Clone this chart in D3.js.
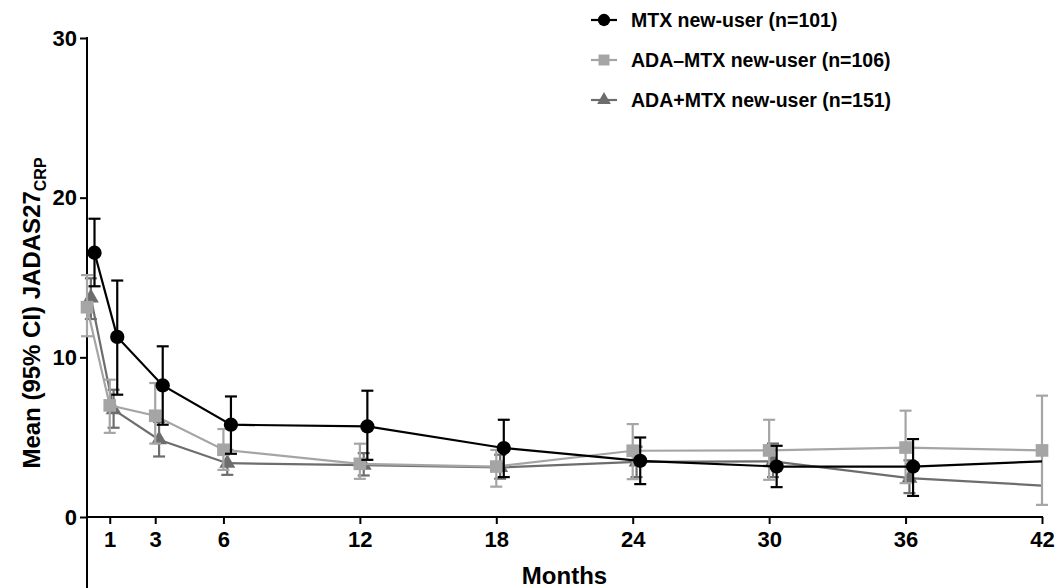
<!DOCTYPE html>
<html>
<head>
<meta charset="utf-8">
<script src="https://cdn.jsdelivr.net/npm/d3@7"></script>
<style>
  body { margin: 0; background: #fff; }
  svg text { font-family: "Liberation Sans", Arial, sans-serif; font-weight: bold; }
</style>
</head>
<body>
<div id="chart"></div>
<script>
// months at which the visits happen
const months = [0, 1, 3, 6, 12, 18, 24, 30, 36, 42];
const xTicks = [1, 3, 6, 12, 18, 24, 30, 36, 42];
const yTicks = [0, 10, 20, 30];

// MTX new-user
const mtxMean = [16.55, 11.28, 8.24, 5.78, 5.67, 4.32, 3.52, 3.16, 3.16, 3.48];
const mtxLow  = [14.45, 7.66, 5.78, 3.96, 3.58, 2.50, 2.06, 1.87, 1.32, null];
const mtxHigh = [18.68, 14.81, 10.69, 7.55, 7.91, 6.09, 4.98, 4.46, 4.88, null];

// ADA-MTX new-user
const adaMean = [13.14, 6.99, 6.34, 4.21, 3.33, 3.16, 4.15, 4.17, 4.35, 4.17];
const adaLow  = [11.32, 5.27, 4.60, 2.95, 2.39, 1.90, 2.37, 2.33, 2.12, 0.76];
const adaHigh = [15.15, 8.60, 8.39, 5.51, 4.59, 4.20, 5.82, 6.09, 6.66, 7.60];

// ADA+MTX new-user
const comboMean = [13.73, 6.72, 4.84, 3.37, 3.25, 3.10, 3.45, 3.48, 2.43, 1.97];
const comboLow  = [12.40, 5.59, 3.79, 2.64, 2.60, 2.40, 2.50, 2.50, 1.50, null];
const comboHigh = [14.95, 7.97, 5.95, 4.20, 4.00, 3.90, 4.40, 4.60, 3.55, null];

const legendLabels = ["MTX new-user (n=101)", "ADA\u2013MTX new-user (n=106)", "ADA+MTX new-user (n=151)"];

const width = 1060, height = 588;

const svg = d3.select('#chart').append('svg')
    .attr('width', width)
    .attr('height', height);

let x = d3.scaleLinear().domain([0, 42]).range([87, 1042]);
let y = d3.scaleLinear().domain([0, 30]).range([517, 38]);

// series, drawn back to front; dodge is a small horizontal shift in months
let series = [
    { name: legendLabels[2], mean: comboMean, low: comboLow, high: comboHigh, color: '#6d6d6d', shape: d3.symbolTriangle, size: 110, dodge: 0.17 },
    { name: legendLabels[1], mean: adaMean, low: adaLow, high: adaHigh, color: '#a5a5a5', shape: d3.symbolSquare, size: 160, dodge: 0 },
    { name: legendLabels[0], mean: mtxMean, low: mtxLow, high: mtxHigh, color: '#000000', shape: d3.symbolCircle, size: 160, dodge: 0.33 }
];

// axes
let yAxis = svg.append('g')
    .attr('transform', 'translate(' + x(0) + ',0)')
    .call(d3.axisLeft(y).tickValues(yTicks).tickSize(7).tickPadding(3).tickFormat(d3.format('d')));
yAxis.select('.domain').remove();
yAxis.selectAll('line').attr('stroke', '#000').attr('stroke-width', 2);
yAxis.selectAll('text').style('font-size', '22px').attr('fill', '#000');
svg.append('line')
    .attr('x1', x(0)).attr('x2', x(0))
    .attr('y1', y(30) - 1).attr('y2', height)
    .attr('stroke', '#000').attr('stroke-width', 2);

let xAxis = svg.append('g')
    .attr('transform', 'translate(0,' + y(0) + ')')
    .call(d3.axisBottom(x).tickValues(xTicks).tickSize(7).tickPadding(7));
xAxis.select('.domain').remove();
xAxis.selectAll('line').attr('stroke', '#000').attr('stroke-width', 2);
xAxis.selectAll('text').style('font-size', '22px').attr('fill', '#000');
svg.append('line')
    .attr('x1', x(0)).attr('x2', x(42) + 1)
    .attr('y1', y(0)).attr('y2', y(0))
    .attr('stroke', '#000').attr('stroke-width', 2);

// axis titles
svg.append('text')
    .attr('x', (x(0) + x(42)) / 2)
    .attr('y', 584)
    .attr('text-anchor', 'middle')
    .style('font-size', '24px')
    .text('Months');

let yTitle = svg.append('text')
    .attr('transform', 'translate(40,' + (y(30) + height) / 2 + ') rotate(-90)')
    .attr('text-anchor', 'middle')
    .style('font-size', '24px');
yTitle.append('tspan').text('Mean (95% CI) JADAS27');
yTitle.append('tspan').attr('dy', 6).style('font-size', '16px').text('CRP');

// plot each series
let line = d3.line()
    .x(function(d) { return d.px; })
    .y(function(d) { return y(d.v); });

series.forEach(function(s) {
    let pts = months.map(function(m, i) {
        // last visit without CI is drawn at the tick itself
        let shift = s.low[i] === null ? 0 : s.dodge;
        return { px: x(m + shift), v: s.mean[i], lo: s.low[i], hi: s.high[i] };
    });
    let g = svg.append('g');

    g.append('path')
        .datum(pts)
        .attr('d', line)
        .attr('fill', 'none')
        .attr('stroke', s.color)
        .attr('stroke-width', 2.2);

    let withCI = pts.filter(function(d) { return d.lo !== null; });

    g.selectAll('.bar').data(withCI).enter()
        .append('line')
        .attr('x1', function(d) { return d.px; })
        .attr('x2', function(d) { return d.px; })
        .attr('y1', function(d) { return y(d.lo); })
        .attr('y2', function(d) { return y(d.hi); })
        .attr('stroke', s.color).attr('stroke-width', 2.2);

    ['lo', 'hi'].forEach(function(k) {
        g.selectAll('.cap-' + k).data(withCI).enter()
            .append('line')
            .attr('x1', function(d) { return d.px - 6; })
            .attr('x2', function(d) { return d.px + 6; })
            .attr('y1', function(d) { return y(d[k]); })
            .attr('y2', function(d) { return y(d[k]); })
            .attr('stroke', s.color).attr('stroke-width', 2.2);
    });

    g.selectAll('.mark').data(withCI).enter()
        .append('path')
        .attr('transform', function(d) { return 'translate(' + d.px + ',' + y(d.v) + ')'; })
        .attr('d', d3.symbol().type(s.shape).size(s.size))
        .attr('fill', s.color);
});

// legend
let legendRows = [series[2], series[1], series[0]];
let legend = svg.append('g').selectAll('g')
    .data(legendRows).enter()
    .append('g')
    .attr('transform', function(d, i) { return 'translate(591,' + (20 + i * 40) + ')'; });

legend.append('line')
    .attr('x1', 0).attr('x2', 26)
    .attr('stroke', function(d) { return d.color; })
    .attr('stroke-width', 2.2);
legend.append('path')
    .attr('transform', 'translate(13,0)')
    .attr('d', function(d) { return d3.symbol().type(d.shape).size(d.size * 0.75)(); })
    .attr('fill', function(d) { return d.color; });
legend.append('text')
    .attr('x', 40)
    .attr('dy', '0.36em')
    .style('font-size', '19.5px')
    .text(function(d) { return d.name; });
</script>
</body>
</html>
